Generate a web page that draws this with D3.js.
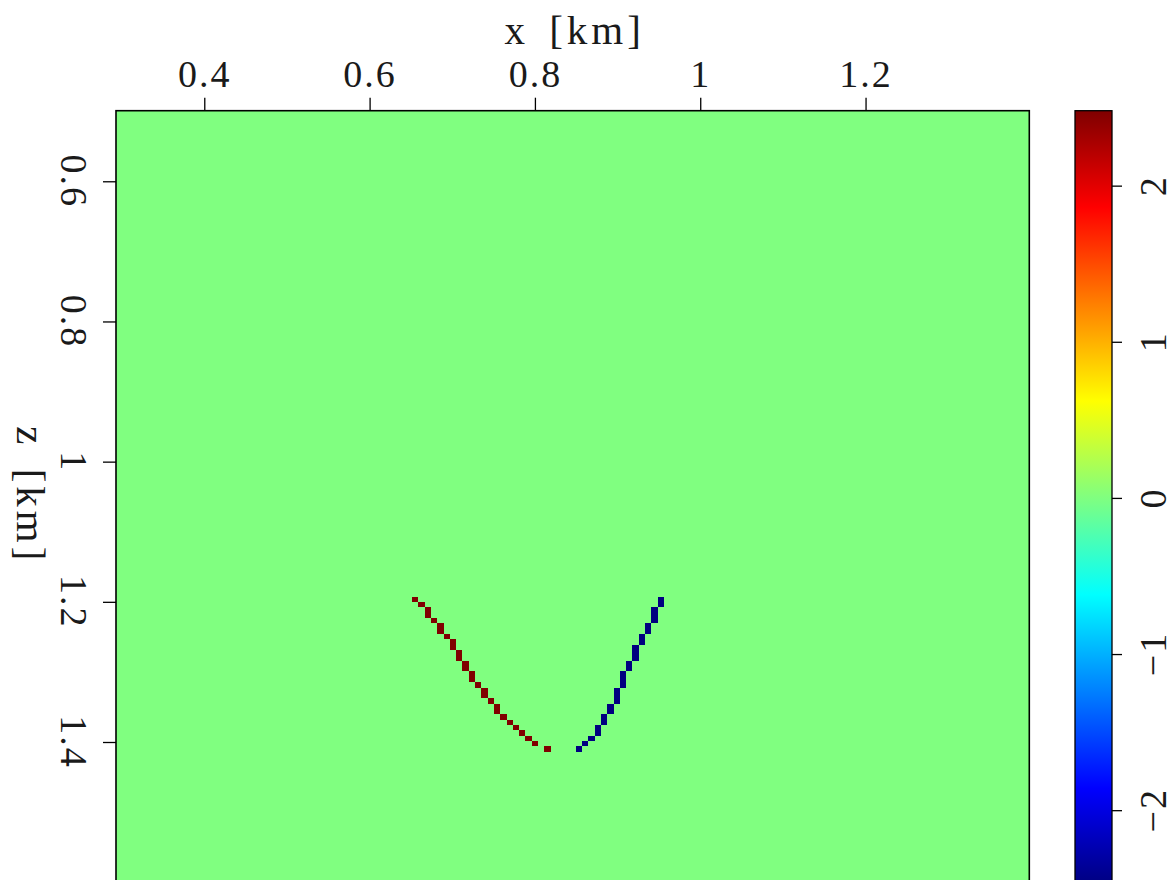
<!DOCTYPE html>
<html>
<head>
<meta charset="utf-8">
<script src="https://cdn.jsdelivr.net/npm/d3@7"></script>
<style>
  html, body { margin: 0; padding: 0; background: #fff; overflow: hidden; }
  svg { display: block; }
  text { font-family: "Liberation Serif", "DejaVu Serif", serif; fill: #1a1a1a; }
</style>
</head>
<body>
<svg id="chart" width="1174" height="880"></svg>
<script>
// Image grid (km): origin of the first sample edge and sample spacing
const xOrigin = 0.2932;
const zOrigin = 0.4993;
const sampling = 0.00762;
const nx = 145;
const nz = 145;

// Amplitude clip of the colour scale
const clipValue = 2.48;

// Non-zero samples of the image as [ix, iz] grid indices
const positiveSamples = [
  [47, 91], [48, 92], [49, 93], [49, 94], [50, 95], [51, 96], [51, 97],
  [52, 98], [53, 99], [53, 100], [54, 101], [54, 102], [55, 103], [55, 104],
  [56, 105], [56, 106], [57, 107], [58, 108], [58, 109], [59, 110],
  [60, 111], [60, 112], [61, 113], [62, 114], [63, 115], [64, 116],
  [65, 117], [66, 118], [68, 119]
];
const negativeSamples = [
  [73, 119], [74, 118], [75, 117], [76, 115], [76, 116], [77, 113], [77, 114],
  [78, 111], [78, 112], [79, 108], [79, 109], [79, 110], [80, 105], [80, 106],
  [80, 107], [81, 103], [81, 104], [82, 100], [82, 101], [82, 102], [83, 98],
  [83, 99], [84, 96], [84, 97], [85, 93], [85, 94], [85, 95], [86, 91], [86, 92]
];
const positiveAmplitude = 2.48;
const negativeAmplitude = -2.48;

// Axis ticks and labels
const xTicks = [0.4, 0.6, 0.8, 1, 1.2];
const zTicks = [0.6, 0.8, 1, 1.2, 1.4];
const colorTicks = [-2, -1, 0, 1, 2];
const xLabel = "x [km]";
const zLabel = "z [km]";

// ---- layout ----
const plot = { left: 116, top: 110.7, right: 1029.3 };
const cbar = { left: 1075, right: 1112 };
const pxPerKmZ = 700.9;

const xScale = d3.scaleLinear()
  .domain([xOrigin, xOrigin + nx * sampling])
  .range([plot.left, plot.right]);
const zScale = d3.scaleLinear()
  .domain([zOrigin, zOrigin + nz * sampling])
  .range([plot.top, plot.top + nz * sampling * pxPerKmZ]);

// MATLAB-style jet colour map
function jet(t) {
  const c = v => Math.max(0, Math.min(1, v));
  return d3.rgb(
    Math.round(255 * c(1.5 - Math.abs(4 * t - 3))),
    Math.round(255 * c(1.5 - Math.abs(4 * t - 2))),
    Math.round(255 * c(1.5 - Math.abs(4 * t - 1)))
  ).formatHex();
}
const ampToUnit = d3.scaleLinear().domain([-clipValue, clipValue]).range([0, 1]).clamp(true);
const color = v => jet(ampToUnit(v));

const svg = d3.select("#chart");
const defs = svg.append("defs");
const plotHeight = zScale.range()[1] - plot.top;
defs.append("clipPath").attr("id", "plotClip")
  .append("rect")
  .attr("x", plot.left).attr("y", plot.top)
  .attr("width", plot.right - plot.left)
  .attr("height", plotHeight);

// ---- image ----
const img = svg.append("g").attr("clip-path", "url(#plotClip)");
img.append("rect")
  .attr("x", plot.left).attr("y", plot.top)
  .attr("width", plot.right - plot.left)
  .attr("height", plotHeight)
  .attr("fill", color(0));

const cells = positiveSamples.map(([ix, iz]) => ({ ix, iz, v: positiveAmplitude }))
  .concat(negativeSamples.map(([ix, iz]) => ({ ix, iz, v: negativeAmplitude })));

img.selectAll("rect.cell").data(cells).join("rect")
  .attr("class", "cell")
  .attr("shape-rendering", "crispEdges")
  .attr("x", d => xScale(xOrigin + d.ix * sampling))
  .attr("y", d => zScale(zOrigin + d.iz * sampling))
  .attr("width", d => xScale(xOrigin + (d.ix + 1) * sampling) - xScale(xOrigin + d.ix * sampling))
  .attr("height", d => zScale(zOrigin + (d.iz + 1) * sampling) - zScale(zOrigin + d.iz * sampling))
  .attr("fill", d => color(d.v));

// frame
svg.append("rect")
  .attr("x", plot.left).attr("y", plot.top)
  .attr("width", plot.right - plot.left)
  .attr("height", plotHeight)
  .attr("fill", "none").attr("stroke", "#000").attr("stroke-width", 1.6);

const fmt = d => d3.format("~g")(d);
const fontSize = 38;
const labelSize = 41;

// ---- top x axis ----
const xAxis = d3.axisTop(xScale).tickValues(xTicks).tickSize(13).tickFormat(fmt);
const gx = svg.append("g").attr("transform", `translate(0,${plot.top})`).call(xAxis);
gx.select(".domain").remove();
gx.selectAll(".tick line").attr("stroke", "#000").attr("stroke-width", 1.3);
gx.selectAll(".tick text")
  .attr("font-size", fontSize).attr("font-family", "Liberation Serif")
  .attr("fill", "#1a1a1a").attr("letter-spacing", 2)
  .attr("y", -24).attr("dy", 0);
svg.append("text")
  .attr("x", (plot.left + plot.right) / 2 + 2).attr("y", 44)
  .attr("text-anchor", "middle").attr("font-size", labelSize)
  .attr("letter-spacing", 4)
  .attr("word-spacing", 6)
  .text(xLabel);

// ---- left z axis ----
const zAxis = d3.axisLeft(zScale).tickValues(zTicks).tickSize(13).tickFormat("");
const gz = svg.append("g").attr("transform", `translate(${plot.left},0)`).call(zAxis);
gz.select(".domain").remove();
gz.selectAll(".tick line").attr("stroke", "#000").attr("stroke-width", 1.3);
svg.append("g").selectAll("text").data(zTicks).join("text")
  .attr("transform", d => `translate(61,${zScale(d)}) rotate(90)`)
  .attr("text-anchor", "middle").attr("font-size", fontSize)
  .attr("letter-spacing", 2)
  .text(fmt);
svg.append("text")
  .attr("transform", `translate(17,${(plot.top + 880) / 2}) rotate(90)`)
  .attr("text-anchor", "middle").attr("font-size", labelSize)
  .attr("letter-spacing", 4)
  .attr("word-spacing", 6)
  .text(zLabel);

// ---- colour bar ----
const cbScale = d3.scaleLinear().domain([-clipValue, clipValue])
  .range([zScale.range()[1], plot.top]);
const grad = defs.append("linearGradient").attr("id", "jetGrad")
  .attr("x1", 0).attr("y1", 1).attr("x2", 0).attr("y2", 0);
d3.range(0, 1.0001, 1 / 64).forEach(t => {
  grad.append("stop").attr("offset", t).attr("stop-color", jet(t));
});
svg.append("rect")
  .attr("x", cbar.left).attr("y", cbScale.range()[1])
  .attr("width", cbar.right - cbar.left)
  .attr("height", cbScale.range()[0] - cbScale.range()[1])
  .attr("fill", "url(#jetGrad)")
  .attr("stroke", "#000").attr("stroke-width", 1.3);
const cAxis = d3.axisRight(cbScale).tickValues(colorTicks).tickSize(10).tickFormat("");
const gc = svg.append("g").attr("transform", `translate(${cbar.right},0)`).call(cAxis);
gc.select(".domain").remove();
gc.selectAll(".tick line").attr("stroke", "#000").attr("stroke-width", 1.3);
svg.append("g").selectAll("text").data(colorTicks).join("text")
  .attr("transform", d => `translate(1166,${cbScale(d)}) rotate(-90)`)
  .attr("text-anchor", "middle").attr("font-size", fontSize)
  .attr("letter-spacing", 2)
  .text(d => d < 0 ? "\u2212" + Math.abs(d) : String(d));
</script>
</body>
</html>
